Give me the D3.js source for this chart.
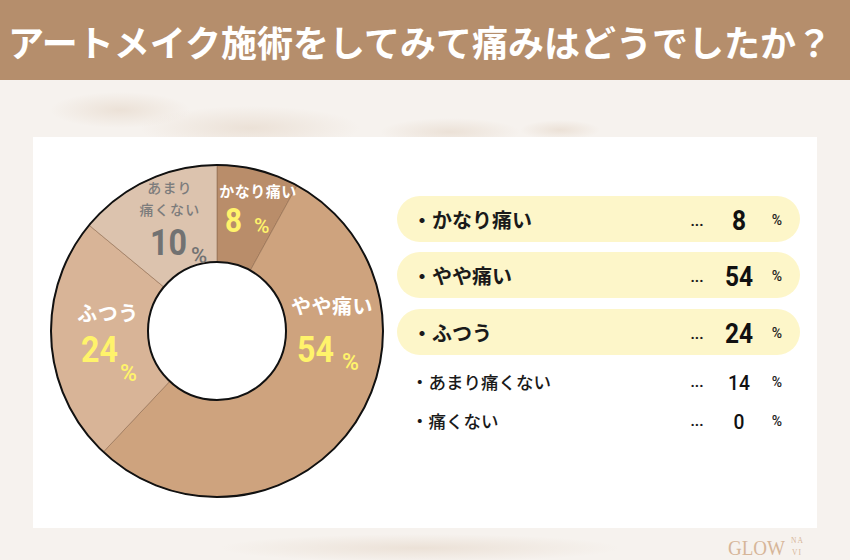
<!DOCTYPE html>
<html><head><meta charset="utf-8">
<script src="https://cdn.jsdelivr.net/npm/d3@7"></script>
<style>
html,body{margin:0;padding:0;background:#f4efea;}
svg{display:block;font-family:"Noto Sans CJK JP","Noto Sans",sans-serif;}
</style></head>
<body>
<svg id="chart" width="850" height="560"></svg>
<script>
// ---- data ----
const titleText = "アートメイク施術をしてみて痛みはどうでしたか？";
const categories = ["かなり痛い", "やや痛い", "ふつう", "あまり痛くない", "痛くない"];
const values = [8, 54, 24, 14, 0];
const donutLabelValues = [8, 54, 24, 10];          // numbers printed inside the donut
const highlighted = [true, true, true, false, false];
const sliceColors = ["#b98d6a", "#cea37e", "#d8b497", "#dcc3ae", "#e6d6c8"];

const svg = d3.select("#chart");

// ---- background ----
const defs = svg.append("defs");
const rg = defs.append("radialGradient").attr("id","soft");
rg.append("stop").attr("offset","0%").attr("stop-color","#e9ddd1").attr("stop-opacity",0.8);
rg.append("stop").attr("offset","100%").attr("stop-color","#e9ddd1").attr("stop-opacity",0);
svg.append("rect").attr("width",850).attr("height",560).attr("fill","#f6f2ee");
const blobs = [[250,128,110,22],[450,132,70,14],[560,130,40,10],[420,548,200,14],[120,110,70,18]];
svg.append("g").selectAll("ellipse").data(blobs).join("ellipse")
  .attr("cx",d=>d[0]).attr("cy",d=>d[1]).attr("rx",d=>d[2]).attr("ry",d=>d[3]).attr("fill","url(#soft)");

// title bar
svg.append("rect").attr("x",0).attr("y",0).attr("width",850).attr("height",80).attr("fill","#b58e6c");
svg.append("text").attr("x",8).attr("y",41).attr("dominant-baseline","central")
  .attr("font-size",36).attr("font-weight",700).attr("fill","#ffffff")
  .attr("textLength",824).attr("lengthAdjust","spacingAndGlyphs").text(titleText);

// card
svg.append("rect").attr("x",33).attr("y",137).attr("width",784).attr("height",391).attr("fill","#ffffff");

// ---- donut ----
const cx = 217, cy = 331, rOuter = 166, rInner = 69;
const pie = d3.pie().sort(null).value(d => d.v);
const pieData = pie(categories.slice(0,4).map((c,i)=>({c, v: values[i], i})));
const arc = d3.arc().innerRadius(rInner).outerRadius(rOuter);
const g = svg.append("g").attr("transform",`translate(${cx},${cy})`);
g.selectAll("path").data(pieData).join("path")
  .attr("d", arc).attr("fill", d => sliceColors[d.data.i])
  .attr("stroke","#8f6a4e").attr("stroke-width",0.6);
g.append("circle").attr("r",rOuter).attr("fill","none").attr("stroke","#111").attr("stroke-width",2);
g.append("circle").attr("r",rInner).attr("fill","#fff").attr("stroke","#111").attr("stroke-width",2);

// labels inside donut (layout per slice)
const labelLayout = [
  {name:[[258,190]], nameSize:15, nameColor:"#ffffff", numX:225, numY:232, numSize:34, pctX:254, pctY:233, pctSize:21, numColor:"#fff36b"},
  {name:[[332,305]], nameSize:20, nameColor:"#ffffff", numX:297, numY:362, numSize:37, pctX:342, pctY:370, pctSize:23, numColor:"#fff36b"},
  {name:[[108,312]], nameSize:20, nameColor:"#ffffff", numX:81, numY:362, numSize:37, pctX:120, pctY:381, pctSize:23, numColor:"#fff36b"},
  {name:[[170,187],[170,209]], nameSize:14, nameColor:"#7c7c7c", numX:150, numY:255, numSize:37, pctX:191, pctY:263, pctSize:22, numColor:"#727272", split:["あまり","痛くない"], weight:500}
];
const lg = svg.append("g");
labelLayout.forEach((L, i) => {
  const lines = L.split || [categories[i]];
  lines.forEach((t, k) => {
    lg.append("text").attr("x", L.name[k][0]).attr("y", L.name[k][1])
      .attr("text-anchor","middle").attr("dominant-baseline","central")
      .attr("font-size", L.nameSize).attr("font-weight", L.weight || 700)
      .attr("letter-spacing", L.split ? 1.2 : 0.5)
      .attr("fill", L.nameColor).text(t);
  });
  const num = String(donutLabelValues[i]);
  lg.append("text").attr("x", L.numX).attr("y", L.numY)
    .attr("font-family","Roboto, sans-serif").attr("font-size", L.numSize).attr("font-weight",700)
    .attr("textLength", num.length * L.numSize * 0.5).attr("lengthAdjust","spacingAndGlyphs")
    .attr("fill", L.numColor).text(num);
  lg.append("text").attr("x", L.pctX).attr("y", L.pctY)
    .attr("font-family","Roboto, sans-serif").attr("font-size", L.pctSize).attr("font-weight",500)
    .attr("fill", L.numColor).text("%");
});

// ---- legend list ----
const rowCenters = [219, 275, 332, 381, 420];
const yOf = c => rowCenters[categories.indexOf(c)];
const list = svg.append("g");
categories.forEach((c, i) => {
  const y = yOf(c), big = highlighted[i];
  if (big) {
    list.append("rect").attr("x",397).attr("y",y-23).attr("width",403).attr("height",46)
      .attr("rx",23).attr("fill","#fdf6c9");
  }
  list.append("text").attr("x", big ? 412 : 411).attr("y", y).attr("dominant-baseline","central")
    .attr("font-size", big ? 20 : 17.5).attr("font-weight", big ? 700 : 500)
    .attr("fill","#1a1a1a").text("・" + c);
  list.append("text").attr("x",697).attr("y", y + (big ? 7 : 6)).attr("text-anchor","middle")
    .attr("font-family","Roboto, sans-serif").attr("font-size", 15).attr("font-weight",700)
    .attr("fill","#1a1a1a").text("...");
  const num = String(values[i]);
  const nSize = big ? 27 : 21;
  list.append("text").attr("x",739).attr("y", y + (big ? 11 : 9)).attr("text-anchor","middle")
    .attr("font-family","Roboto, sans-serif").attr("font-size", nSize).attr("font-weight", big ? 700 : 500)
    .attr("textLength", num.length * nSize * 0.52).attr("lengthAdjust","spacingAndGlyphs")
    .attr("fill","#111").text(num);
  list.append("text").attr("x",777).attr("y", y + 6).attr("text-anchor","middle")
    .attr("font-family","Roboto, sans-serif").attr("font-size", 14).attr("font-weight",500)
    .attr("fill","#222").text("%");
});

// ---- logo ----
const logo = svg.append("g").attr("fill","#d6b699").attr("font-family","'Liberation Serif', serif");
logo.append("text").attr("x",728).attr("y",555).attr("font-size",22)
  .attr("textLength",57).attr("lengthAdjust","spacingAndGlyphs").text("GLOW");
logo.append("text").attr("x",791).attr("y",543).attr("font-size",7.5).attr("letter-spacing",1).text("NA");
logo.append("text").attr("x",792).attr("y",555).attr("font-size",7.5).attr("letter-spacing",1).text("VI");
</script>
</body></html>
